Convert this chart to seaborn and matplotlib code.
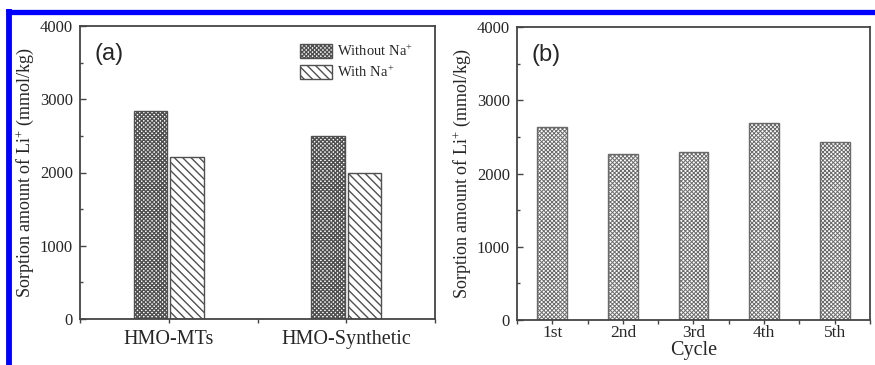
import matplotlib
matplotlib.use("Agg")
import matplotlib.pyplot as plt
from matplotlib.lines import Line2D
from matplotlib.ticker import MultipleLocator, FixedLocator
import seaborn as sns
import pandas as pd

# Li+ sorption of the two adsorbents, with and without competing Na+
adsorbents = ["HMO-MTs", "HMO-Synthetic"]
conditions = ["Without Na$^{+}$", "With Na$^{+}$"]
sorption_without_na = [2840, 2505]
sorption_with_na = [2205, 1990]

# Li+ sorption over repeated sorption/desorption cycles
cycles = ["1st", "2nd", "3rd", "4th", "5th"]
cycle_sorption = [2635, 2262, 2294, 2685, 2435]

y_ticks = [0, 1000, 2000, 3000, 4000]

sns.set_style("ticks")
plt.rcParams["font.family"] = ["Liberation Serif", "DejaVu Serif"]
plt.rcParams["mathtext.fontset"] = "custom"
plt.rcParams["mathtext.rm"] = "Liberation Serif"
plt.rcParams["mathtext.it"] = "Liberation Serif"
plt.rcParams["hatch.linewidth"] = 1.0

SPINE = "#444444"
W, H = 875, 365

fig = plt.figure(figsize=(W / 100, H / 100), dpi=100)
fig.patch.set_facecolor("white")

ax1 = fig.add_axes([80 / W, (H - 319) / H, 355 / W, 293 / H])
ax2 = fig.add_axes([517 / W, (H - 320) / H, 353 / W, 293 / H])

df_a = pd.DataFrame({
    "Adsorbent": adsorbents * 2,
    "Condition": [conditions[0]] * 2 + [conditions[1]] * 2,
    "Sorption": sorption_without_na + sorption_with_na,
})
df_b = pd.DataFrame({"Cycle": cycles, "Sorption": cycle_sorption})

sns.barplot(data=df_a, x="Adsorbent", y="Sorption", hue="Condition",
            order=adsorbents, hue_order=conditions,
            palette=["white", "white"], edgecolor="#505050", linewidth=1.0,
            width=0.41, gap=0.07, legend=False, ax=ax1)
for container, hatch in zip(ax1.containers, ["xxxxxxxx", "\\\\\\\\"]):
    for bar in container:
        bar.set_hatch(hatch)

with plt.rc_context({"hatch.linewidth": 0.7}):
    sns.barplot(data=df_b, x="Cycle", y="Sorption", order=cycles,
                color="white", edgecolor="#6a6a6a", linewidth=1.0,
                width=0.42, ax=ax2)
    for bar in ax2.containers[0]:
        bar.set_hatch("xxxxxxxx")
        if hasattr(bar, "set_hatch_linewidth"):
            bar.set_hatch_linewidth(0.7)

leg = ax1.legend(ax1.containers, conditions, loc="upper left",
                 bbox_to_anchor=(0.62, 0.94), frameon=False,
                 fontsize=10.5, handlelength=2.2, handleheight=1.05,
                 handletextpad=0.3, labelspacing=0.4, borderpad=0,
                 borderaxespad=0)

ylabel = "Sorption amount of Li$^{+}$ (mmol/kg)"
for ax, ncat in ((ax1, 2), (ax2, 5)):
    ax.set_xlim(-0.5, ncat - 0.5)
    ax.set_ylim(0, 4000)
    ax.yaxis.set_major_locator(FixedLocator(y_ticks))
    ax.yaxis.set_minor_locator(MultipleLocator(500))
    ax.xaxis.set_minor_locator(FixedLocator([i + 0.5 for i in range(-1, ncat)]))
    ax.tick_params(axis="y", which="major", direction="in", length=4,
                   width=1.0, color=SPINE, labelsize=12, pad=5)
    ax.tick_params(axis="y", which="minor", direction="in", length=2.5,
                   width=1.0, color=SPINE)
    ax.tick_params(axis="x", which="both", direction="out", length=3,
                   width=1.0, color=SPINE)
    for s in ax.spines.values():
        s.set_visible(True)
        s.set_color(SPINE)
        s.set_linewidth(1.3)
    ax.set_ylabel(ylabel, fontsize=13, labelpad=3)

ax1.tick_params(axis="x", which="major", labelsize=14.5, pad=5)
ax1.set_xlabel("")
ax2.tick_params(axis="x", which="major", labelsize=12.5, pad=0.5)
ax2.set_xlabel("Cycle", fontsize=14.5, labelpad=0)

ax1.text(0.04, 0.905, "(a)", transform=ax1.transAxes, fontsize=17,
         family="Liberation Sans", va="center", ha="left")
ax2.text(0.04, 0.905, "(b)", transform=ax2.transAxes, fontsize=17,
         family="Liberation Sans", va="center", ha="left")

# blue frame along the top and left edges
fig.add_artist(Line2D([6 / W, 1.0], [1 - 11.5 / H, 1 - 11.5 / H],
                      transform=fig.transFigure, color="#0000ff", lw=3.8,
                      solid_capstyle="butt"))
fig.add_artist(Line2D([9 / W, 9 / W], [0, 1 - 9 / H],
                      transform=fig.transFigure, color="#0000ff", lw=4.2,
                      solid_capstyle="butt"))

fig.savefig("out.png", dpi=100, facecolor="white")
